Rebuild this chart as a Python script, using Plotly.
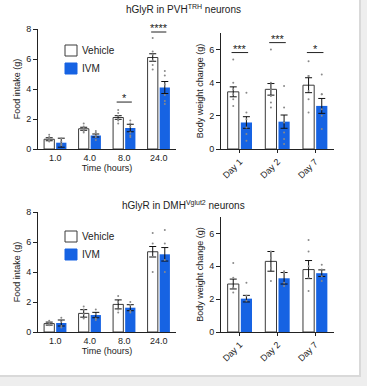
import plotly.graph_objects as go

W, H = 367, 386

# ---------------- data ----------------
time_labels = ["1.0", "4.0", "8.0", "24.0"]
day_labels = ["Day 1", "Day 2", "Day 7"]

# PVH-TRH food intake
pvh_food_veh = [0.65, 1.35, 2.1, 6.1]
pvh_food_veh_err = [0.1, 0.1, 0.12, 0.25]
pvh_food_ivm = [0.42, 0.9, 1.4, 4.1]
pvh_food_ivm_err = [0.3, 0.1, 0.25, 0.4]
pvh_food_veh_pts = [[0.95, 0.8, 0.7, 0.6, 0.55, 0.5], [1.7, 1.5, 1.4, 1.3, 1.2, 1.1],
                    [2.6, 2.4, 2.2, 2.0, 1.9, 1.7], [7.4, 6.5, 6.3, 5.9, 5.6, 5.3]]
pvh_food_ivm_pts = [[0.7, 0.5, 0.35, 0.3, 0.25], [1.2, 1.1, 0.9, 0.8, 0.6],
                    [1.9, 1.7, 1.5, 1.1, 0.9, 0.8], [5.2, 4.9, 4.3, 3.6, 3.2, 3.0]]

# PVH-TRH body weight change
pvh_bw_veh = [3.45, 3.6, 3.85]
pvh_bw_veh_err = [0.3, 0.35, 0.45]
pvh_bw_ivm = [1.6, 1.65, 2.6]
pvh_bw_ivm_err = [0.35, 0.4, 0.45]
pvh_bw_veh_pts = [[5.4, 4.0, 3.6, 3.3, 3.0, 2.6], [6.0, 4.0, 3.6, 3.2, 2.8, 2.5],
                  [5.3, 4.4, 4.4, 3.5, 3.0, 2.2]]
pvh_bw_ivm_pts = [[3.4, 2.2, 1.8, 1.3, 0.9, 0.5], [3.8, 2.5, 1.6, 1.0, 0.6, 0.3],
                  [4.5, 3.3, 3.3, 2.4, 2.0, 1.2]]

# DMH-Vglut2 food intake
dmh_food_veh = [0.56, 1.24, 1.84, 5.35]
dmh_food_veh_err = [0.1, 0.25, 0.3, 0.35]
dmh_food_ivm = [0.6, 1.13, 1.62, 5.18]
dmh_food_ivm_err = [0.2, 0.18, 0.2, 0.45]
dmh_food_veh_pts = [[0.75, 0.6, 0.5, 0.45], [1.7, 1.5, 1.2, 0.9],
                    [2.4, 2.0, 1.5, 1.3], [6.6, 5.9, 5.0, 4.0]]
dmh_food_ivm_pts = [[0.95, 0.7, 0.4, 0.3], [1.5, 1.2, 0.9, 0.8],
                    [2.0, 1.8, 1.4, 1.3], [6.8, 5.9, 4.8, 4.0]]

# DMH-Vglut2 body weight change
dmh_bw_veh = [2.92, 4.3, 3.8]
dmh_bw_veh_err = [0.3, 0.6, 0.55]
dmh_bw_ivm = [2.03, 3.27, 3.58]
dmh_bw_ivm_err = [0.2, 0.35, 0.2]
dmh_bw_veh_pts = [[4.2, 3.3, 2.7, 2.4], [4.9, 4.5, 3.9, 3.1], [5.6, 4.9, 4.0, 3.3, 2.5]]
dmh_bw_ivm_pts = [[3.0, 2.2, 1.9], [3.7, 3.6, 3.0, 2.8], [4.1, 3.8, 3.4, 3.1]]

# significance: (panel, category index, label, line level)
sig_marks = [
    ("pvh_food", 2, "*", 3.13),
    ("pvh_food", 3, "****", 7.8),
    ("pvh_bw", 0, "***", 5.82),
    ("pvh_bw", 1, "***", 6.42),
    ("pvh_bw", 2, "*", 5.82),
]

# ---------------- style ----------------
BLUE = "#1663e3"
EDGE = "#3a3a3a"
TXT = "#222222"
FONT = "Liberation Sans, Arial, sans-serif"


def py(px):  # pixel from top -> paper y
    return 1 - px / H


def pxx(px):
    return px / W


fig = go.Figure()

panels = {
    "pvh_food": dict(xa="x", ya="y", cats=time_labels, veh=pvh_food_veh, vehe=pvh_food_veh_err,
                     ivm=pvh_food_ivm, ivme=pvh_food_ivm_err, vp=pvh_food_veh_pts, ip=pvh_food_ivm_pts),
    "pvh_bw": dict(xa="x2", ya="y2", cats=day_labels, veh=pvh_bw_veh, vehe=pvh_bw_veh_err,
                   ivm=pvh_bw_ivm, ivme=pvh_bw_ivm_err, vp=pvh_bw_veh_pts, ip=pvh_bw_ivm_pts),
    "dmh_food": dict(xa="x3", ya="y3", cats=time_labels, veh=dmh_food_veh, vehe=dmh_food_veh_err,
                     ivm=dmh_food_ivm, ivme=dmh_food_ivm_err, vp=dmh_food_veh_pts, ip=dmh_food_ivm_pts),
    "dmh_bw": dict(xa="x4", ya="y4", cats=day_labels, veh=dmh_bw_veh, vehe=dmh_bw_veh_err,
                   ivm=dmh_bw_ivm, ivme=dmh_bw_ivm_err, vp=dmh_bw_veh_pts, ip=dmh_bw_ivm_pts),
}

for name, p in panels.items():
    fig.add_trace(go.Bar(
        x=p["cats"], y=p["veh"], xaxis=p["xa"], yaxis=p["ya"], name="Vehicle",
        offsetgroup="veh", showlegend=False,
        marker=dict(color="white", line=dict(color=EDGE, width=1)),
        error_y=dict(type="data", array=p["vehe"], color="#111", thickness=1, width=3.5),
    ))
    fig.add_trace(go.Bar(
        x=p["cats"], y=p["ivm"], xaxis=p["xa"], yaxis=p["ya"], name="IVM",
        offsetgroup="ivm", showlegend=False,
        marker=dict(color=BLUE, line=dict(color=BLUE, width=0)),
        error_y=dict(type="data", array=p["ivme"], color="#111", thickness=1, width=3.5),
    ))
    for grp, pts in (("veh", p["vp"]), ("ivm", p["ip"])):
        xs, ys = [], []
        for c, vals in zip(p["cats"], pts):
            xs += [c] * len(vals)
            ys += vals
        fig.add_trace(go.Scatter(
            x=xs, y=ys, xaxis=p["xa"], yaxis=p["ya"], mode="markers", offsetgroup=grp,
            showlegend=False, marker=dict(size=2, color="#8a8a8a"), hoverinfo="skip",
        ))

# axes domains (pixel measurements)
left_x = [pxx(38), pxx(176)]
right_x = [pxx(221), pxx(334)]
top_left_y = [py(149), py(29)]
top_right_y = [py(149), py(33)]
bot_left_y = [py(332), py(212)]
bot_right_y = [py(332), py(217)]

tickfont = dict(family=FONT, size=9, color=TXT)
titlefont = dict(family=FONT, size=9, color=TXT)

common_y = dict(showgrid=False, zeroline=False, showline=True, linecolor=TXT, linewidth=1,
                ticks="outside", ticklen=4, tickcolor=TXT, tickwidth=1, tickfont=tickfont,
                automargin=False)
common_x = dict(showgrid=False, zeroline=False, showline=True, linecolor=TXT, linewidth=1,
                tickfont=tickfont, automargin=False, type="category")

fig.update_layout(
    xaxis=dict(domain=left_x, anchor="y", ticks="", title=dict(text="Time (hours)", font=titlefont, standoff=2), **common_x),
    yaxis=dict(domain=top_left_y, anchor="x", range=[0, 8], tickvals=[0, 2, 4, 6, 8],
               title=dict(text="Food intake (g)", font=titlefont, standoff=4), **common_y),
    xaxis2=dict(domain=right_x, anchor="y2", ticks="outside", ticklen=3, tickcolor=TXT, tickangle=-45, **common_x),
    yaxis2=dict(domain=top_right_y, anchor="x2", range=[0, 7], tickvals=[0, 2, 4, 6],
                title=dict(text="Body weight change (g)", font=titlefont, standoff=4), **common_y),
    xaxis3=dict(domain=left_x, anchor="y3", ticks="", title=dict(text="Time (hours)", font=titlefont, standoff=2), **common_x),
    yaxis3=dict(domain=bot_left_y, anchor="x3", range=[0, 8], tickvals=[0, 2, 4, 6, 8],
                title=dict(text="Food intake (g)", font=titlefont, standoff=4), **common_y),
    xaxis4=dict(domain=right_x, anchor="y4", ticks="outside", ticklen=3, tickcolor=TXT, tickangle=-45, **common_x),
    yaxis4=dict(domain=bot_right_y, anchor="x4", range=[0, 7], tickvals=[0, 2, 4, 6],
                title=dict(text="Body weight change (g)", font=titlefont, standoff=4), **common_y),
    barmode="group", bargap=0.3, bargroupgap=0.15,
    scattermode="group", scattergap=0.3,
    width=W, height=H, margin=dict(l=0, r=0, t=0, b=0),
    paper_bgcolor="#eeeeee", plot_bgcolor="rgba(0,0,0,0)",
    font=dict(family=FONT, color=TXT),
    showlegend=False,
)

shapes = [
    # card shadow and card
    dict(type="rect", xref="paper", yref="paper", x0=pxx(0), x1=pxx(361), y0=py(377), y1=py(0),
         fillcolor="#d9d9d9", line=dict(width=0), layer="below"),
    dict(type="rect", xref="paper", yref="paper", x0=pxx(0), x1=pxx(359), y0=py(375), y1=py(0),
         fillcolor="white", line=dict(width=0), layer="below"),
]

annotations = [
    dict(text="hGlyR in PVH<sup>TRH</sup> neurons", x=pxx(183), y=py(1), xref="paper", yref="paper",
         yanchor="top", showarrow=False, font=dict(family=FONT, size=10, color=TXT)),
    dict(text="hGlyR in DMH<sup>Vglut2</sup> neurons", x=pxx(183), y=py(205), xref="paper", yref="paper",
         showarrow=False, font=dict(family=FONT, size=10, color=TXT)),
]

# manual legends
for top in (45, 231):
    for i, (lab, fill, edge) in enumerate((("Vehicle", "white", EDGE), ("IVM", BLUE, BLUE))):
        y0 = top + i * 18
        shapes.append(dict(type="rect", xref="paper", yref="paper", x0=pxx(65), x1=pxx(77),
                           y0=py(y0 + 11), y1=py(y0), fillcolor=fill, line=dict(color=edge, width=1)))
        annotations.append(dict(text=lab, x=pxx(80), y=py(y0 + 5.5), xref="paper", yref="paper",
                                xanchor="left", yanchor="middle", showarrow=False,
                                font=dict(family=FONT, size=10, color=TXT)))

# significance markers
for pname, ci, lab, lvl in sig_marks:
    p = panels[pname]
    shapes.append(dict(type="line", xref=p["xa"], yref=p["ya"], x0=ci - 0.22, x1=ci + 0.22,
                       y0=lvl, y1=lvl, line=dict(color=TXT, width=1)))
    annotations.append(dict(text=lab, x=ci, y=lvl, xref=p["xa"], yref=p["ya"], showarrow=False,
                            yanchor="top", yshift=12, font=dict(family=FONT, size=11, color=TXT)))

fig.update_layout(shapes=shapes, annotations=annotations)

fig.write_html("out.html", config={"displayModeBar": False},
               post_script="document.body.style.margin='0';document.body.style.overflow='hidden';")
